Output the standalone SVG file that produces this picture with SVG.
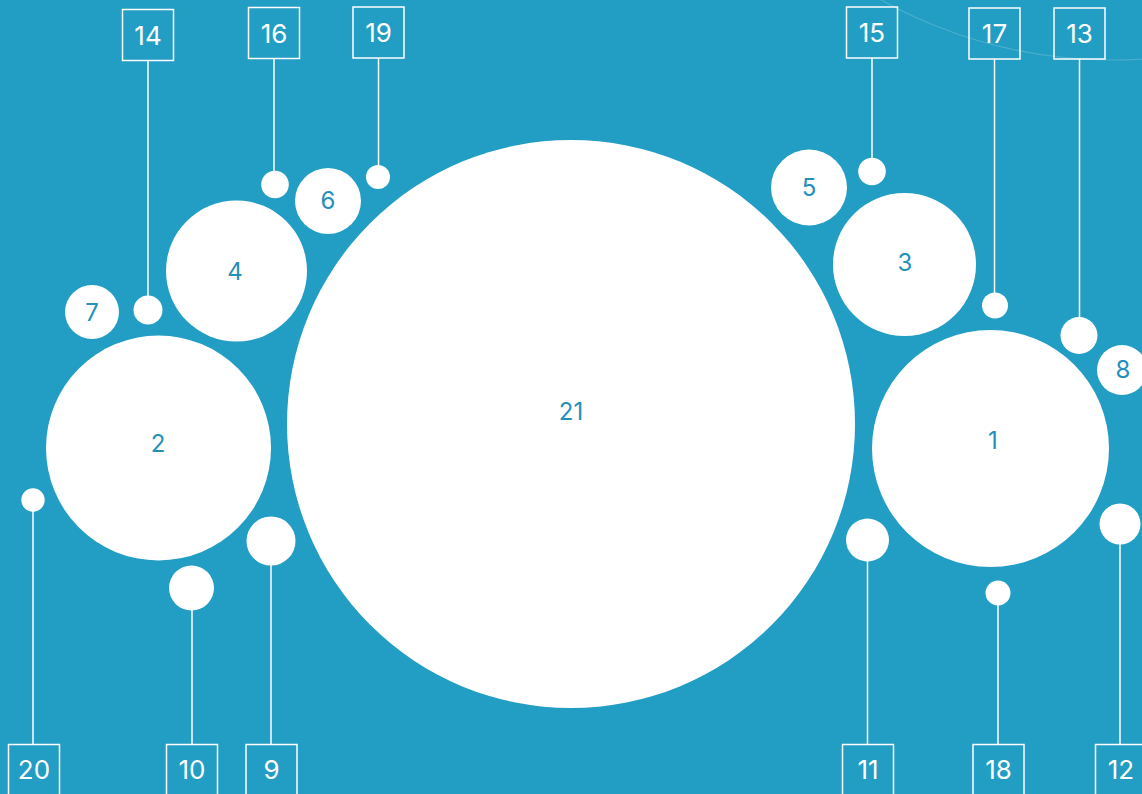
<svg xmlns="http://www.w3.org/2000/svg" width="1142" height="794" viewBox="0 0 1142 794">
<style>
.bubble{fill:#ffffff}
.blabel{font-family:Inter,"Liberation Sans",sans-serif;font-size:24px;fill:#2590b8;text-anchor:middle}
.box{fill:none;stroke:#ffffff;stroke-width:1.5}
.tlabel{font-family:Inter,"Liberation Sans",sans-serif;font-size:26px;fill:#ffffff;text-anchor:middle}
.lead{stroke:#ffffff;stroke-width:1.5;fill:none}
</style>
<rect x="0" y="0" width="1142" height="794" fill="#229dc3"/>
<circle cx="1112" cy="-413" r="473" fill="none" stroke="#ffffff" stroke-opacity="0.18" stroke-width="1.2"/>
<g id="connectors">
<line class="lead" x1="148" y1="60" x2="148" y2="296"/>
<line class="lead" x1="274" y1="58" x2="274" y2="171"/>
<line class="lead" x1="378.5" y1="58" x2="378.5" y2="166"/>
<line class="lead" x1="872" y1="58" x2="872" y2="158"/>
<line class="lead" x1="994.5" y1="59" x2="994.5" y2="293"/>
<line class="lead" x1="1079.5" y1="59" x2="1079.5" y2="317"/>
<line class="lead" x1="33" y1="511" x2="33" y2="744"/>
<line class="lead" x1="192" y1="610" x2="192" y2="744"/>
<line class="lead" x1="271" y1="565" x2="271" y2="744"/>
<line class="lead" x1="867.5" y1="561" x2="867.5" y2="744"/>
<line class="lead" x1="998" y1="605" x2="998" y2="744"/>
<line class="lead" x1="1120" y1="544" x2="1120" y2="744"/>
</g>
<g id="node21"><circle class="bubble" cx="571" cy="424" r="284"/><text class="blabel" x="571" y="420">21</text></g>
<g id="node1"><circle class="bubble" cx="990.5" cy="448.5" r="118.5"/><text class="blabel" x="993" y="449">1</text></g>
<g id="node2"><circle class="bubble" cx="158.5" cy="448" r="112.5"/><text class="blabel" x="158" y="452">2</text></g>
<g id="node3"><circle class="bubble" cx="904.5" cy="264.5" r="71.5"/><text class="blabel" x="905" y="271">3</text></g>
<g id="node4"><circle class="bubble" cx="236.5" cy="271" r="70.5"/><text class="blabel" x="235" y="280">4</text></g>
<g id="node5"><circle class="bubble" cx="809" cy="187.5" r="38"/><text class="blabel" x="809" y="196">5</text></g>
<g id="node6"><circle class="bubble" cx="328" cy="201" r="33"/><text class="blabel" x="328" y="209">6</text></g>
<g id="node7"><circle class="bubble" cx="92" cy="312" r="27"/><text class="blabel" x="92" y="321">7</text></g>
<g id="node8"><circle class="bubble" cx="1122" cy="370" r="25"/><text class="blabel" x="1123" y="378">8</text></g>
<g id="node9"><circle class="bubble" cx="271" cy="541" r="24.5"/></g>
<g id="node10"><circle class="bubble" cx="191.5" cy="588" r="22.5"/></g>
<g id="node11"><circle class="bubble" cx="867.5" cy="540" r="21.5"/></g>
<g id="node12"><circle class="bubble" cx="1120" cy="524" r="20.5"/></g>
<g id="node13"><circle class="bubble" cx="1079" cy="335.5" r="18.5"/></g>
<g id="node14"><circle class="bubble" cx="148" cy="310" r="14.5"/></g>
<g id="node15"><circle class="bubble" cx="872" cy="171.5" r="13.8"/></g>
<g id="node16"><circle class="bubble" cx="275" cy="184.5" r="13.8"/></g>
<g id="node17"><circle class="bubble" cx="995" cy="305.5" r="13"/></g>
<g id="node18"><circle class="bubble" cx="998" cy="593" r="12.5"/></g>
<g id="node19"><circle class="bubble" cx="378" cy="177" r="12"/></g>
<g id="node20"><circle class="bubble" cx="33" cy="500" r="11.7"/></g>
<g id="label14"><rect class="box" x="122.5" y="9.5" width="51" height="51"/><text class="tlabel" x="148" y="44.5">14</text></g>
<g id="label16"><rect class="box" x="248.5" y="7.5" width="51" height="51"/><text class="tlabel" x="274" y="42.5">16</text></g>
<g id="label19"><rect class="box" x="353" y="7" width="51" height="51"/><text class="tlabel" x="378.5" y="42">19</text></g>
<g id="label15"><rect class="box" x="846.5" y="7" width="51" height="51"/><text class="tlabel" x="872" y="42">15</text></g>
<g id="label17"><rect class="box" x="969" y="8" width="51" height="51"/><text class="tlabel" x="994.5" y="43">17</text></g>
<g id="label13"><rect class="box" x="1054" y="8" width="51" height="51"/><text class="tlabel" x="1079.5" y="43">13</text></g>
<g id="label20"><rect class="box" x="8.5" y="744.5" width="51" height="51"/><text class="tlabel" x="34" y="779">20</text></g>
<g id="label10"><rect class="box" x="166.5" y="744.5" width="51" height="51"/><text class="tlabel" x="192" y="779">10</text></g>
<g id="label9"><rect class="box" x="246" y="744.5" width="51" height="51"/><text class="tlabel" x="271.5" y="779">9</text></g>
<g id="label11"><rect class="box" x="842.5" y="744.5" width="51" height="51"/><text class="tlabel" x="868" y="779">11</text></g>
<g id="label18"><rect class="box" x="973" y="744.5" width="51" height="51"/><text class="tlabel" x="998.5" y="779">18</text></g>
<g id="label12"><rect class="box" x="1095.5" y="744.5" width="51" height="51"/><text class="tlabel" x="1121" y="779">12</text></g>
</svg>
